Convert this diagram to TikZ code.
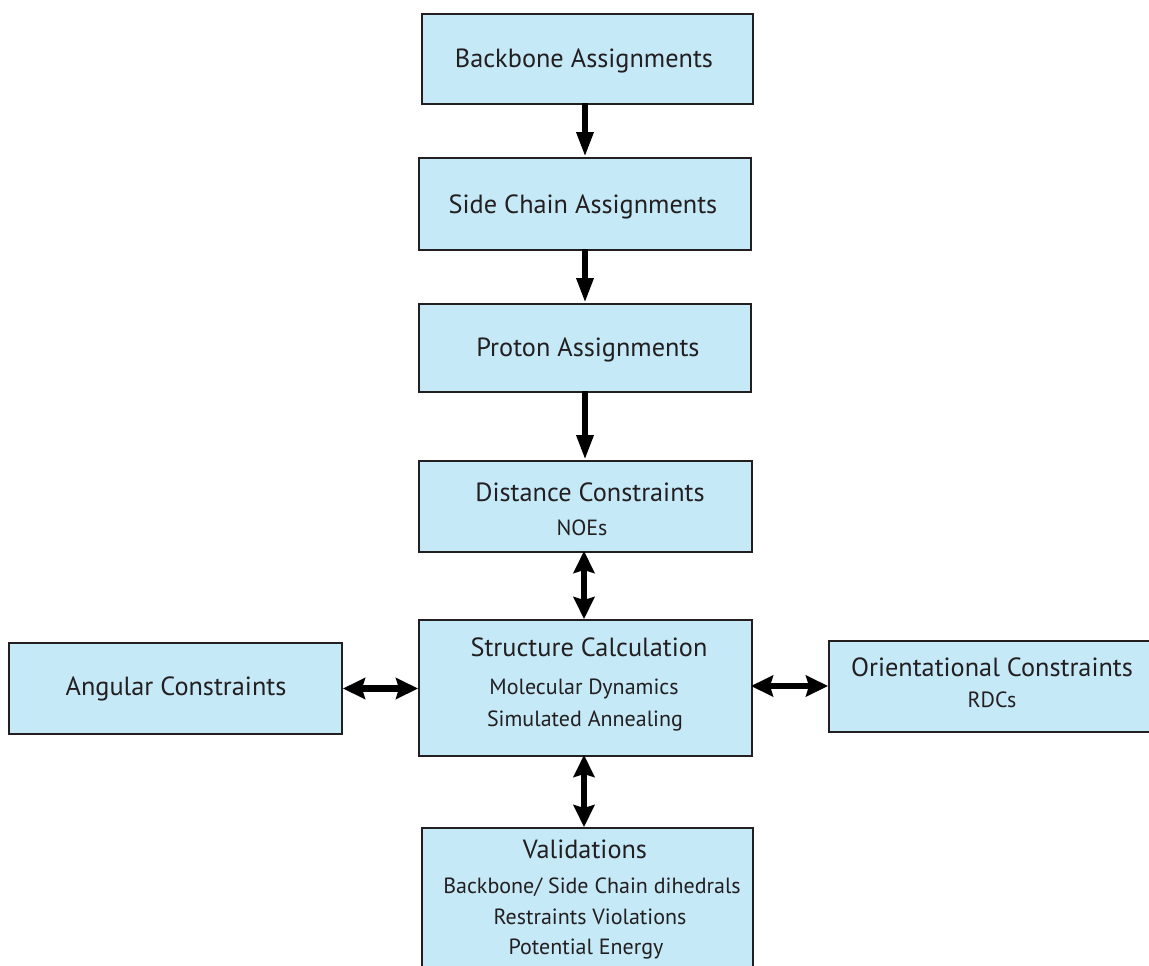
\documentclass[tikz,border=0pt]{standalone}
\usepackage{fontspec}
\setmainfont{PT Sans}
\usetikzlibrary{arrows.meta}
\definecolor{boxfill}{RGB}{197,233,247}
\definecolor{ink}{RGB}{35,31,32}
\begin{document}
\begin{tikzpicture}[x=1pt, y=-1pt,
  box/.style={draw=ink, line width=2pt, fill=boxfill, inner sep=0pt, anchor=north west},
  title/.style={anchor=base, inner sep=0pt, text=ink, font=\fontsize{26.3}{30}\selectfont},
  sub/.style={anchor=base, inner sep=0pt, text=ink, font=\fontsize{22}{26}\selectfont},
  onearrow/.style={draw=black, line width=6pt, -{Triangle[width=16pt,length=25pt]}},
  twoarrow/.style={draw=black, line width=6.5pt, {Stealth[width=21pt,length=22pt,inset=3pt]}-{Stealth[width=21pt,length=22pt,inset=3pt]}}
]
\useasboundingbox (0,0) rectangle (1149,966);
\clip (0,0) rectangle (1149,966);

% boxes
\node[box, minimum width=331pt, minimum height=90pt]  (bb) at (421,13)  {};
\node[box, minimum width=332pt, minimum height=92pt]  (sc) at (418,157) {};
\node[box, minimum width=332pt, minimum height=88pt]  (pa) at (418,303) {};
\node[box, minimum width=333pt, minimum height=91pt]  (dc) at (418,460) {};
\node[box, minimum width=333pt, minimum height=136pt] (st) at (418,619) {};
\node[box, minimum width=333pt, minimum height=91pt]  (ac) at (8,642)   {};
\node[box, minimum width=350pt, minimum height=91pt]  (oc) at (828,640) {};
\node[box, minimum width=331pt, minimum height=180pt] (va) at (421,827) {};

% labels
\node[title] (bb-t) at (584,68) {Backbone Assignments};
\node[title] (sc-t) at (583,213) {Side Chain Assignments};
\node[title] (pa-t) at (588,356) {Proton Assignments};
\node[title] (dc-t) at (590,501) {Distance Constraints};
\node[sub]   (dc-s) at (582,535) {NOEs};
\node[title] (st-t) at (589,656) {Structure Calculation};
\node[sub]   (st-a) at (584,694) {Molecular Dynamics};
\node[sub]   (st-b) at (585,726) {Simulated Annealing};
\node[title] (ac-t) at (176,695) {Angular Constraints};
\node[title] (oc-t) at (992,676) {Orientational Constraints};
\node[sub]   (oc-s) at (992,707) {RDCs};
\node[title] (va-t) at (585,858) {Validations};
\node[sub]   (va-a) at (592,893) {Backbone/ Side Chain dihedrals};
\node[sub]   (va-b) at (590,924) {Restraints Violations};
\node[sub]   (va-c) at (586,954) {Potential Energy};

% connectors
\draw[onearrow] (585,103) coordinate (bb-o) -- (bb-o |- sc.north);
\draw[onearrow] (585,249) coordinate (sc-o) -- (sc-o |- pa.north);
\draw[onearrow] (585,391) coordinate (pa-o) -- (pa-o |- dc.north);
\draw[twoarrow] (584,551) coordinate (dc-o) -- (dc-o |- st.north);
\draw[twoarrow] (584,755) coordinate (st-o) -- (st-o |- va.north);
\draw[twoarrow] (ac.east) -- (ac.east -| st.west);
\draw[twoarrow] (751,686) coordinate (st-r) -- (st-r -| oc.west);
\end{tikzpicture}
\end{document}
